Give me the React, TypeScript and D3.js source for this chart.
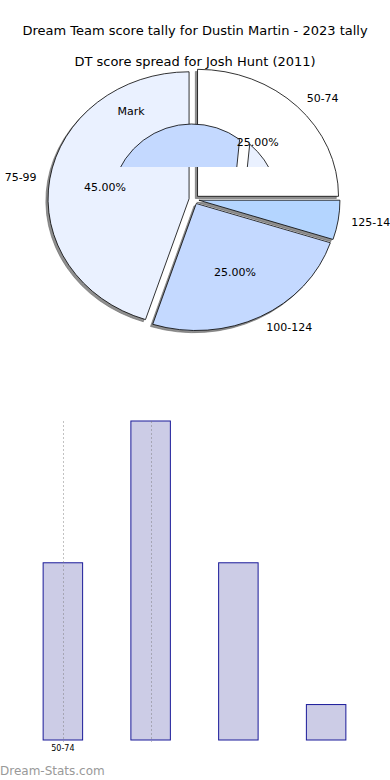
import React from "react";
import * as d3 from "d3";

const categories = ["50-74", "75-99", "100-124", "125-149"];
const counts = [5, 9, 5, 1];
const sliceColors = ["#ffffff", "#eaf1ff", "#c4d9ff", "#b4d5ff"];
const titleMain = "Dream Team score tally for Dustin Martin - 2023 tally";
const titleSub = "DT score spread for Josh Hunt (2011)";
const overlayLabel = "Mark";
const overlayPercent = "25.00%";
const overlayColors = ["#c4d9ff", "#eaf1ff"];
const gridCategories = ["50-74", "75-99"];
const tickLabels = ["50-74"];
const watermark = "Dream-Stats.com";

const W = 390;
const H = 780;
const FONT = "DejaVu Sans, Verdana, sans-serif";

export default function App() {
  const cx = 194;
  const cy = 199.5;
  const ry = 127;
  const rx = 141;
  const sx = rx / ry;
  const explode = 4.5;

  const pie = d3
    .pie<number>()
    .sort(null)
    .startAngle(Math.PI / 2)
    .endAngle(Math.PI / 2 - 2 * Math.PI);
  const arcs = pie(counts);
  const arcGen = d3.arc<d3.PieArcDatum<number>>().innerRadius(0).outerRadius(ry);
  const total = d3.sum(counts);

  const mid = (a: d3.PieArcDatum<number>) => (a.startAngle + a.endAngle) / 2;

  // overlay glitch pie
  const ov1 = d3.path();
  {
    const c = [192, 205];
    const r = 81;
    const a0 = (-110 * Math.PI) / 180;
    const a1 = (36 * Math.PI) / 180;
    ov1.moveTo(c[0] + r * Math.sin(a0), c[1] - r * Math.cos(a0));
    ov1.arc(c[0], c[1], r, a0 - Math.PI / 2, a1 - Math.PI / 2);
    ov1.lineTo(c[0] + 44, c[1] - 30);
    ov1.lineTo(c[0] - 80, c[1] - 30);
    ov1.closePath();
  }
  const ov2 = d3.path();
  {
    const c = [197, 207];
    const r = 82;
    const a0 = (40 * Math.PI) / 180;
    const a1 = (100 * Math.PI) / 180;
    ov2.moveTo(c[0] + 49, c[1] - 27);
    ov2.lineTo(c[0] + r * Math.sin(a0), c[1] - r * Math.cos(a0));
    ov2.arc(c[0], c[1], r, a0 - Math.PI / 2, a1 - Math.PI / 2);
    ov2.closePath();
  }

  // bar chart
  const x = d3
    .scaleBand<string>()
    .domain(categories)
    .range([19, 370])
    .paddingInner(0.55)
    .paddingOuter(0.275);
  const y = d3.scaleLinear().domain([0, d3.max(counts) as number]).range([740, 421]);

  return (
    <svg
      width={W}
      height={H}
      style={{ position: "absolute", left: 0, top: 0, background: "#fff" }}
      fontFamily={FONT}
    >
      <rect x={0} y={0} width={W} height={H} fill="#fff" />
      <defs>
        <clipPath id="ovclip">
          <rect x={0} y={0} width={W} height={167} />
        </clipPath>
      </defs>
      <text x={195} y={35} textAnchor="middle" fontSize={13} fill="#000">
        {titleMain}
      </text>
      <text x={195} y={66} textAnchor="middle" fontSize={13} fill="#000">
        {titleSub}
      </text>

      {/* shadows */}
      <g transform={`translate(${cx - 2.2},${cy + 2.2}) scale(${sx},1)`}>
        {arcs.map((a, i) => (
          <path
            key={"s" + i}
            d={arcGen(a) || ""}
            transform={`translate(${Math.sin(mid(a)) * explode},${-Math.cos(mid(a)) * explode})`}
            fill="#8f8f8f"
            stroke="#666"
            strokeWidth={0.6}
            vectorEffect="non-scaling-stroke"
          />
        ))}
      </g>
      {/* slices */}
      <g transform={`translate(${cx},${cy}) scale(${sx},1)`}>
        {arcs.map((a, i) => (
          <path
            key={"p" + i}
            d={arcGen(a) || ""}
            transform={`translate(${Math.sin(mid(a)) * explode},${-Math.cos(mid(a)) * explode})`}
            fill={sliceColors[i]}
            stroke="#000"
            strokeWidth={0.8}
            vectorEffect="non-scaling-stroke"
          />
        ))}
      </g>

      {/* glitch overlay */}
      <g clipPath="url(#ovclip)">
        <path d={ov1.toString()} fill={overlayColors[0]} stroke="#000" strokeWidth={0.8} />
        <path d={ov2.toString()} fill={overlayColors[1]} stroke="#000" strokeWidth={0.8} />
      </g>

      {/* labels */}
      {arcs.map((a, i) => {
        const m = mid(a);
        const lx = cx + 1.13 * rx * Math.sin(m);
        const ly = cy - 1.13 * ry * Math.cos(m);
        return (
          <text
            key={"l" + i}
            x={lx}
            y={ly}
            dy="0.35em"
            textAnchor={Math.sin(m) >= 0 ? "start" : "end"}
            fontSize={11}
            fill="#000"
          >
            {categories[i]}
          </text>
        );
      })}
      {arcs.map((a, i) => {
        const frac = counts[i] / total;
        if (frac < 0.1) return null;
        const m = mid(a);
        const lx = cx + 0.64 * rx * Math.sin(m);
        const ly = cy - 0.64 * ry * Math.cos(m);
        return (
          <text key={"v" + i} x={lx} y={ly} dy="0.35em" textAnchor="middle" fontSize={11} fill="#000">
            {(frac * 100).toFixed(2) + "%"}
          </text>
        );
      })}
      <text x={131} y={111} dy="0.35em" textAnchor="middle" fontSize={11} fill="#000">
        {overlayLabel}
      </text>

      {/* bars */}
      {categories.map((c, i) => (
        <rect
          key={"b" + i}
          x={x(c)}
          y={y(counts[i])}
          width={x.bandwidth()}
          height={y(0) - y(counts[i])}
          fill="#ccccE6"
          stroke="#1a1a99"
          strokeWidth={1}
        />
      ))}
      {gridCategories.map((c, i) => {
        const gx = Math.round((x(c) as number) + x.bandwidth() / 2) + 0.5;
        return (
          <line
            key={"g" + i}
            x1={gx}
            x2={gx}
            y1={y(d3.max(counts) as number)}
            y2={y(0) + 2}
            stroke="#777"
            strokeOpacity={0.45}
            strokeWidth={1}
            strokeDasharray="2,2"
          />
        );
      })}
      {tickLabels.map((t, i) => (
        <text
          key={"t" + i}
          x={(x(t) as number) + x.bandwidth() / 2}
          y={748}
          dy="0.35em"
          textAnchor="middle"
          fontSize={8}
          fill="#000"
        >
          {t}
        </text>
      ))}
      <text x={0} y={771} dy="0.35em" fontSize={12} fill="#999">
        {watermark}
      </text>
    </svg>
  );
}
